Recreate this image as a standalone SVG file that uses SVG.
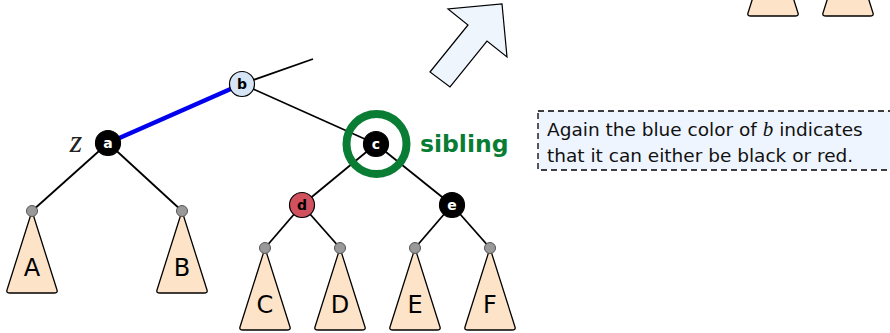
<svg xmlns="http://www.w3.org/2000/svg" width="890" height="333" viewBox="0 0 890 333">
<style>
.e{stroke:#000;stroke-width:1.8;fill:none}
.n{stroke:#000;stroke-width:1.2}
.nl{font-family:"DejaVu Sans",sans-serif;font-weight:bold;font-size:14px;text-anchor:middle}
.t{fill:#fde3c8;stroke:#000;stroke-width:1.3;stroke-linejoin:round}
.tl{font-family:"DejaVu Sans",sans-serif;font-size:24px;text-anchor:middle;fill:#000}
.lf{fill:#999;stroke:#555;stroke-width:1}
.txt{font-family:"DejaVu Sans",sans-serif;font-size:18.5px;fill:#111}
</style>
<rect width="890" height="333" fill="#fff"/>
<g id="big-arrow"><polygon points="430,72 468,25 448,9 502,4 507,57 487,41 450,87" fill="#eef5fd" stroke="#000" stroke-width="1.2" stroke-linejoin="miter"/></g>
<g id="top-subtrees">
<path class="t" d="M773,-66 L798,13 Q799,16 795,16 L751,16 Q747,16 748,13 Z"/>
<path class="t" d="M848,-66 L873,13 Q874,16 870,16 L826,16 Q822,16 823,13 Z"/>
</g>
<g id="connectors">
<line class="e" x1="242" y1="84" x2="313" y2="59"/>
<line class="e" x1="242" y1="84" x2="376" y2="144"/>
<line x1="108" y1="143" x2="242" y2="84" stroke="#0000ee" stroke-width="4.5"/>
<line class="e" x1="108" y1="143" x2="32" y2="211"/>
<line class="e" x1="108" y1="143" x2="182" y2="211"/>
<line class="e" x1="376" y1="144" x2="302" y2="205"/>
<line class="e" x1="376" y1="144" x2="452" y2="205"/>
<line class="e" x1="302" y1="205" x2="265" y2="248"/>
<line class="e" x1="302" y1="205" x2="340" y2="248"/>
<line class="e" x1="452" y1="205" x2="415" y2="248"/>
<line class="e" x1="452" y1="205" x2="490" y2="248"/>
</g>
<g id="subtree-A"><path class="t" d="M32,211 L57,290 Q58,293 54,293 L10,293 Q6,293 7,290 Z"/><circle class="lf" cx="32" cy="211" r="5.5"/><text class="tl" x="32" y="276">A</text></g>
<g id="subtree-B"><path class="t" d="M182,211 L207,290 Q208,293 204,293 L160,293 Q156,293 157,290 Z"/><circle class="lf" cx="182" cy="211" r="5.5"/><text class="tl" x="182" y="276">B</text></g>
<g id="subtree-C"><path class="t" d="M265,248 L290,327 Q291,330 287,330 L243,330 Q239,330 240,327 Z"/><circle class="lf" cx="265" cy="248" r="5.5"/><text class="tl" x="265" y="313">C</text></g>
<g id="subtree-D"><path class="t" d="M340,248 L365,327 Q366,330 362,330 L318,330 Q314,330 315,327 Z"/><circle class="lf" cx="340" cy="248" r="5.5"/><text class="tl" x="340" y="313">D</text></g>
<g id="subtree-E"><path class="t" d="M415,248 L440,327 Q441,330 437,330 L393,330 Q389,330 390,327 Z"/><circle class="lf" cx="415" cy="248" r="5.5"/><text class="tl" x="415" y="313">E</text></g>
<g id="subtree-F"><path class="t" d="M490,248 L515,327 Q516,330 512,330 L468,330 Q464,330 465,327 Z"/><circle class="lf" cx="490" cy="248" r="5.5"/><text class="tl" x="490" y="313">F</text></g>
<g id="node-b"><circle class="n" cx="242" cy="84" r="12.5" fill="#d5e5f5"/><text class="nl" x="242" y="89" fill="#000">b</text></g>
<g id="node-a"><circle class="n" cx="108" cy="143" r="12.5" fill="#000"/><text class="nl" x="108" y="148" fill="#fff">a</text><text x="76" y="152" font-family="'Liberation Serif',serif" font-style="italic" font-size="32" text-anchor="middle" fill="#222">z</text></g>
<g id="node-c"><circle class="n" cx="376" cy="144" r="12.5" fill="#000"/><text class="nl" x="376" y="149" fill="#fff">c</text><circle cx="376.5" cy="144" r="30" fill="none" stroke="#0a7d35" stroke-width="8"/><text x="420" y="152" font-family="'DejaVu Sans',sans-serif" font-weight="bold" font-size="23.5" fill="#0a7d35">sibling</text></g>
<g id="node-d"><circle class="n" cx="302" cy="205" r="12.5" fill="#d2515e"/><text class="nl" x="302" y="210" fill="#000">d</text></g>
<g id="node-e"><circle class="n" cx="452" cy="205" r="12.5" fill="#000"/><text class="nl" x="452" y="210" fill="#fff">e</text></g>
<g id="callout">
<rect x="538" y="111" width="360" height="59" fill="#eef5fe" stroke="#000" stroke-width="1.3" stroke-dasharray="6,4"/>
<text class="txt" x="547" y="136">Again the blue color of <tspan font-family="'Liberation Serif',serif" font-style="italic" font-size="21">b</tspan> indicates</text>
<text class="txt" x="547" y="162">that it can either be black or red.</text>
</g>
</svg>
